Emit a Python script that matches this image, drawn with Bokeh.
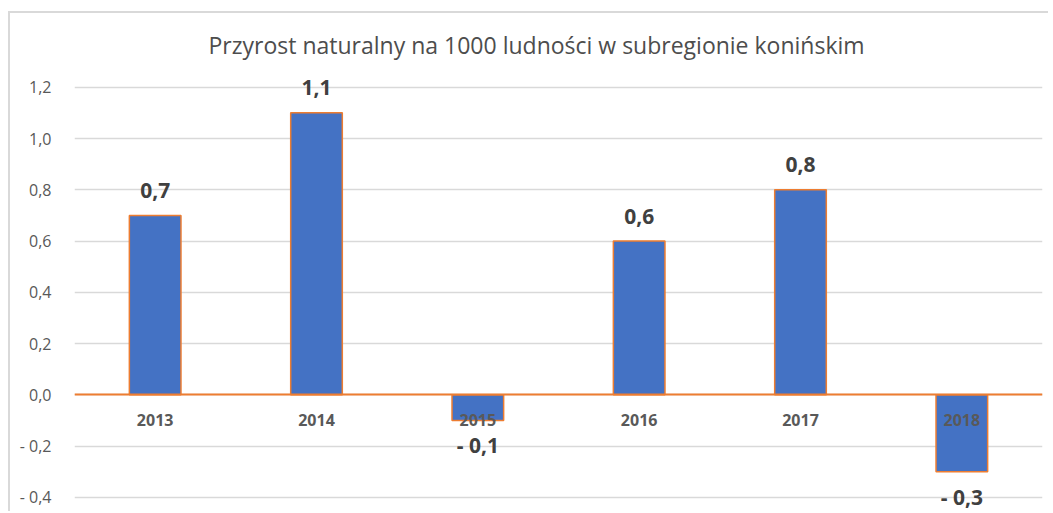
from bokeh.plotting import figure
from bokeh.models import ColumnDataSource, FactorRange, Range1d, FixedTicker, Label
from bokeh.core.properties import value
from bokeh.embed import file_html
from bokeh.resources import INLINE

title_text = "Przyrost naturalny na 1000 ludności w subregionie konińskim"
years = ["2013", "2014", "2015", "2016", "2017", "2018"]
values = [0.7, 1.1, -0.1, 0.6, 0.8, -0.3]
y_ticks = [-0.4, -0.2, 0, 0.2, 0.4, 0.6, 0.8, 1.0, 1.2]
y_tick_labels = ["- 0,4", "- 0,2", "0,0", "0,2", "0,4", "0,6", "0,8", "1,0", "1,2"]

FONT = "Open Sans"


def fmt(v):
    s = f"{abs(v):.1f}".replace(".", ",")
    return ("- " + s) if v < 0 else s


src = ColumnDataSource(dict(
    x=years,
    top=values,
    label=[fmt(v) for v in values],
    off=[-25 if v >= 0 else 25 for v in values],
))

p = figure(
    x_range=FactorRange(*years, range_padding=0),
    y_range=Range1d(-0.4631, 1.4877),
    width=1040, height=500,
    output_backend="svg", toolbar_location=None,
    min_border_left=64, min_border_right=8, min_border_top=0, min_border_bottom=0,
)
p.styles = {"border-left": "2px solid #d9d9d9", "border-top": "2px solid #d9d9d9",
            "margin-top": "11px", "margin-left": "8px"}
p.outline_line_color = None
p.background_fill_color = "white"
p.border_fill_color = "white"

p.vbar(x="x", top="top", bottom=0, width=0.32, source=src,
       fill_color="#4472C4", line_color="#ED7D31", line_width=1.5)

p.text(x="x", y="top", text="label", y_offset="off", source=src,
       text_align="center", text_baseline="middle",
       text_font=value(FONT), text_font_style="bold", text_font_size="21px",
       text_color="#404040")

# y axis
p.yaxis.ticker = FixedTicker(ticks=y_ticks)
p.yaxis.major_label_overrides = {t: l for t, l in zip(y_ticks, y_tick_labels)}
p.yaxis.axis_line_color = None
p.yaxis.major_tick_line_color = None
p.yaxis.minor_tick_line_color = None
p.yaxis.major_label_standoff = 17
p.yaxis.major_label_text_font = FONT
p.yaxis.major_label_text_font_size = "16px"
p.yaxis.major_label_text_color = "#595959"

p.ygrid.ticker = FixedTicker(ticks=y_ticks)
p.ygrid.grid_line_color = "#d9d9d9"
p.ygrid.grid_line_width = 1.5
p.xgrid.grid_line_color = None

# x axis at zero
p.xaxis.fixed_location = 0
p.xaxis.axis_line_color = "#ED7D31"
p.xaxis.axis_line_width = 2
p.xaxis.major_tick_line_color = None
p.xaxis.minor_tick_line_color = None
p.xaxis.major_label_standoff = 13
p.xaxis.major_label_text_font = FONT
p.xaxis.major_label_text_font_style = "bold"
p.xaxis.major_label_text_font_size = "16px"
p.xaxis.major_label_text_color = "#595959"

p.add_layout(Label(x=2.864, y=1.3667, text=title_text, text_align="center",
                   text_baseline="middle", text_font=FONT, text_font_size="23px",
                   text_color="#4d4d4d"))

open("out.html", "w").write(file_html(p, INLINE))
